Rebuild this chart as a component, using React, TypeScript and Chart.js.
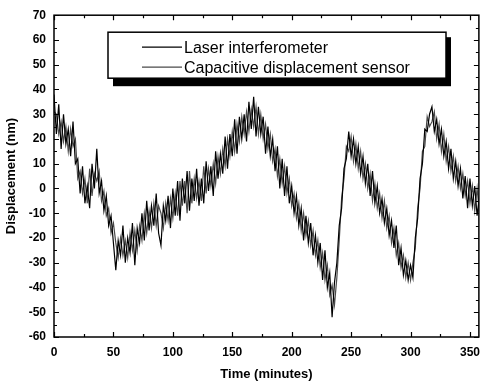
import React, { useEffect, useRef } from "react";
import { Chart, registerables } from "chart.js";

Chart.register(...registerables);

// Sampling of the time axis (minutes)
const startMinute = 0;
const stepMinutes = 2;

// Series values (nm), one per sample
const laserInterferometer = [
  38, 22, 34, 16, 30, 18, 24, 13, 27, 10,
  12, -2, 9, -6, 1, -8, 10, 0, 16, -2,
  3, -9, -3, -15, -11, -22, -33, -21, -27, -15,
  -30, -20, -26, -14, -31, -16, -22, -10, -21, -5,
  -17, -7, -15, -2, -18, -23, -7, -13, -3, -16,
  0, -11, 3, -13, 4, -6, 7, -9, 4, -5,
  8, -7, 4, -6, 11, -1, 9, -3, 15, 4,
  14, 6, 21, 8, 22, 13, 28, 14, 29, 20,
  30, 19, 35, 24, 37, 21, 33, 22, 29, 14,
  25, 13, 20, 7, 17, 0, 12, -3, 9, -6,
  1, -10, -3, -15, -8, -21, -11, -22, -14, -27,
  -19, -30, -22, -37, -25, -40, -34, -52, -38, -30,
  -15, -8, 8, 12, 23, 13, 20, 10, 17, 6,
  13, 2, 10, -3, 7, -6, 1, -10, -4, -14,
  -8, -19, -13, -24, -15, -31, -24, -35, -29, -37,
  -31, -36, -20, -12, 4, 10, 24, 23, 30, 33,
  23, 28, 18, 24, 13, 19, 8, 16, 4, 11,
  1, 8, -4, 5, -8, 4, -7, 1, -11, -3,
];

const capacitiveSensor = [
  31, 30, 22, 27, 19, 25, 15, 24, 17, 20,
  4, 7, -2, 4, -6, 8, -3, 6, 3, 7,
  -5, -1, -11, -8, -18, -14, -22, -28, -20, -27,
  -21, -28, -18, -25, -17, -25, -15, -21, -10, -18,
  -9, -16, -6, -15, -7, -10, -16, -6, -13, -4,
  -12, -2, -11, 3, -7, 3, -10, 7, -6, 4,
  -4, 3, -5, 9, -2, 8, 1, 10, 2, 13,
  6, 16, 9, 20, 13, 23, 15, 26, 19, 29,
  22, 31, 23, 32, 25, 33, 22, 30, 20, 26,
  16, 22, 11, 16, 5, 12, 2, 9, -2, 4,
  -7, -2, -12, -6, -17, -10, -19, -13, -23, -17,
  -27, -21, -32, -26, -37, -31, -43, -39, -47, -36,
  -21, -4, 4, 17, 15, 21, 11, 18, 8, 15,
  4, 10, 0, 6, -5, 2, -8, -2, -12, -5,
  -16, -11, -22, -16, -27, -22, -32, -27, -36, -30,
  -37, -30, -24, -8, 0, 15, 17, 29, 25, 27,
  31, 20, 26, 15, 22, 11, 17, 7, 13, 3,
  9, 0, 6, -3, 3, -6, 1, -9, 0, -10,
];

const seriesLabels = ["Laser interferometer", "Capacitive displacement sensor"];
const seriesColors = ["#000000", "#4a4a4a"];

const xTickValues = [0, 50, 100, 150, 200, 250, 300, 350];
const yTickValues = [-60, -50, -40, -30, -20, -10, 0, 10, 20, 30, 40, 50, 60, 70];
const xMin = 0;
const xMax = 357.5;
const yMin = -60;
const yMax = 70;

const xTitle = "Time (minutes)";
const yTitle = "Displacement (nm)";

const FONT = "'Liberation Sans', Arial, Helvetica, sans-serif";

const framePlugin = {
  id: "frameAndLegend",
  afterDraw(chart: any) {
    const { ctx, chartArea: a, scales } = chart;
    const x = scales.x;
    const y = scales.y;
    ctx.save();
    ctx.strokeStyle = "#000";
    ctx.lineWidth = 1.5;
    ctx.strokeRect(a.left, a.top, a.right - a.left, a.bottom - a.top);

    ctx.lineWidth = 1.2;
    ctx.beginPath();
    for (let v = xMin; v <= 350; v += 25) {
      const px = Math.round(x.getPixelForValue(v)) + 0.5;
      const len = v % 50 === 0 ? 5 : 3;
      ctx.moveTo(px, a.bottom);
      ctx.lineTo(px, a.bottom - len);
      ctx.moveTo(px, a.top);
      ctx.lineTo(px, a.top + len);
    }
    for (let v = yMin; v <= yMax; v += 5) {
      const py = Math.round(y.getPixelForValue(v)) + 0.5;
      const len = v % 10 === 0 ? 5 : 3;
      ctx.moveTo(a.left, py);
      ctx.lineTo(a.left + len, py);
      ctx.moveTo(a.right, py);
      ctx.lineTo(a.right - len, py);
    }
    ctx.stroke();

    // Legend box inside the plot
    const bx = a.left + 54;
    const by = a.top + 17;
    const bw = 338;
    const bh = 46;
    ctx.fillStyle = "#000";
    ctx.fillRect(bx + 5, by + 5, bw, bh + 3);
    ctx.fillStyle = "#fff";
    ctx.fillRect(bx, by, bw, bh);
    ctx.lineWidth = 1.5;
    ctx.strokeStyle = "#000";
    ctx.strokeRect(bx, by, bw, bh);

    ctx.font = `16px ${FONT}`;
    ctx.textBaseline = "middle";
    ctx.textAlign = "left";
    chart.data.datasets.forEach((ds: any, i: number) => {
      const ly = by + 15 + i * 20;
      ctx.strokeStyle = ds.borderColor;
      ctx.lineWidth = 1.3;
      ctx.beginPath();
      ctx.moveTo(bx + 34, ly);
      ctx.lineTo(bx + 74, ly);
      ctx.stroke();
      ctx.fillStyle = "#000";
      ctx.fillText(ds.label, bx + 76, ly + 1);
    });
    ctx.restore();
  },
};

export default function App() {
  const canvasRef = useRef<HTMLCanvasElement | null>(null);

  useEffect(() => {
    if (!canvasRef.current) return;
    const times = laserInterferometer.map((_, i) => startMinute + i * stepMinutes);
    const chart = new Chart(canvasRef.current, {
      type: "line",
      data: {
        datasets: [
          {
            label: seriesLabels[0],
            data: times.map((t, i) => ({ x: t, y: laserInterferometer[i] })),
            borderColor: seriesColors[0],
            borderWidth: 1.2,
            pointRadius: 0,
            tension: 0,
          },
          {
            label: seriesLabels[1],
            data: times.map((t, i) => ({ x: t, y: capacitiveSensor[i] })),
            borderColor: seriesColors[1],
            borderWidth: 1.2,
            pointRadius: 0,
            tension: 0,
          },
        ],
      },
      options: {
        animation: false,
        responsive: false,
        devicePixelRatio: 1,
        layout: { padding: { left: 0, right: 1, top: 12, bottom: 0 } },
        plugins: { legend: { display: false }, tooltip: { enabled: false } },
        scales: {
          x: {
            type: "linear",
            min: xMin,
            max: xMax,
            grid: { display: false, drawTicks: false },
            border: { display: false },
            afterBuildTicks: (s: any) => {
              s.ticks = xTickValues.map((v) => ({ value: v }));
            },
            afterFit: (s: any) => {
              s.height = 48;
            },
            ticks: {
              padding: 8,
              color: "#000",
              maxRotation: 0,
              font: { family: FONT, size: 12, weight: "bold" },
            },
            title: {
              display: true,
              text: xTitle,
              color: "#000",
              font: { family: FONT, size: 13, weight: "bold" },
              padding: { top: 0, bottom: 3 },
            },
          },
          y: {
            type: "linear",
            min: yMin,
            max: yMax,
            grid: { display: false, drawTicks: false },
            border: { display: false },
            afterBuildTicks: (s: any) => {
              s.ticks = yTickValues.map((v) => ({ value: v }));
            },
            afterFit: (s: any) => {
              s.width = 54;
            },
            ticks: {
              padding: 8,
              color: "#000",
              font: { family: FONT, size: 12, weight: "bold" },
            },
            title: {
              display: true,
              text: yTitle,
              color: "#000",
              font: { family: FONT, size: 13, weight: "bold" },
              padding: { top: 4, bottom: 0 },
            },
          },
        },
      },
      plugins: [framePlugin],
    });
    return () => chart.destroy();
  }, []);

  return (
    <div style={{ position: "fixed", left: 0, top: 0, width: 488, height: 385, background: "#fff" }}>
      <canvas ref={canvasRef} width={488} height={385} />
    </div>
  );
}
